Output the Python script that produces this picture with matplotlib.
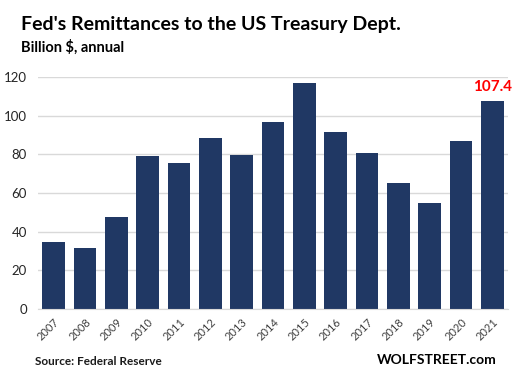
import matplotlib.pyplot as plt

years = ['2007', '2008', '2009', '2010', '2011', '2012', '2013', '2014',
         '2015', '2016', '2017', '2018', '2019', '2020', '2021']
remittances = [34.6, 31.7, 47.4, 79.3, 75.4, 88.4, 79.6, 96.9,
               117.0, 91.5, 80.6, 65.3, 54.9, 86.9, 107.4]
yticks = [0, 20, 40, 60, 80, 100, 120]

plt.rcParams['font.family'] = ['Lato', 'DejaVu Sans']

fig = plt.figure(figsize=(5.16, 3.77), dpi=100)
ax = fig.add_axes([0.0736, 0.1804, 0.9109, 0.6154])

x = range(len(years))
ax.bar(x, remittances, width=0.73, color='#203864', zorder=3)
ax.set_xlim(-0.5, len(years) - 0.5)
ax.set_ylim(0, 120)
ax.set_yticks(yticks)
ax.set_xticks(list(x))
ax.set_xticklabels(years, rotation=45, ha='right', rotation_mode='anchor', fontsize=8)
ax.tick_params(axis='y', labelsize=9.5, length=0, pad=8, colors='#262626')
ax.tick_params(axis='x', length=0, pad=5, colors='#404040')
ax.grid(axis='y', color='#d9d9d9', linewidth=1, zorder=0)
for s in ['top', 'right', 'left']:
    ax.spines[s].set_visible(False)
ax.spines['bottom'].set_color('#d9d9d9')
ax.spines['bottom'].set_zorder(4)

# label on last bar
ax.text(len(years) - 1, remittances[-1] + 4, f'{remittances[-1]:.1f}', color='#ff0000',
        fontsize=11, fontweight='bold', ha='center', va='bottom')

fig.text(0.041, 0.935, "Fed's Remittances to the US Treasury Dept.", fontsize=14,
         fontweight='bold', va='center', ha='left')
fig.text(0.041, 0.876, 'Billion $, annual', fontsize=10.5, fontweight='bold',
         va='center', ha='left')
fig.text(0.068, 0.04, 'Source: Federal Reserve', fontsize=8.5, fontweight='bold',
         va='center', ha='left', color='#1a1a1a')
fig.text(0.962, 0.045, 'WOLFSTREET.com', fontsize=10, fontweight='bold',
         va='center', ha='right')

fig.savefig('out.png', dpi=100)
